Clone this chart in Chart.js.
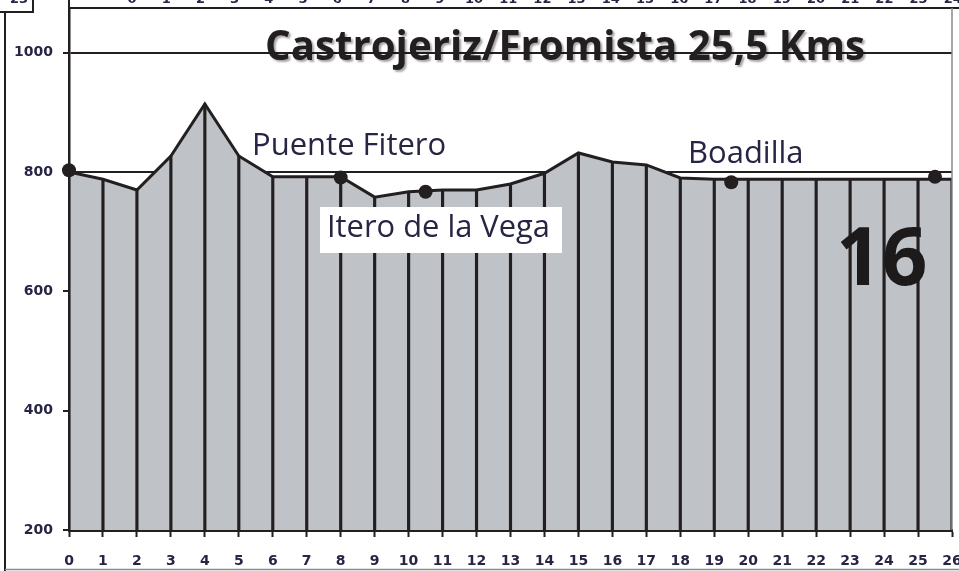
<!DOCTYPE html>
<html>
<head>
<meta charset="utf-8">
<title>Castrojeriz/Fromista</title>
<script src="https://cdn.jsdelivr.net/npm/chart.js@4.4.0/dist/chart.umd.min.js"></script>
<style>
  html, body { margin: 0; padding: 0; background: #fff; }
  #wrap { width: 959px; height: 571px; position: relative; }
</style>
</head>
<body>
<div id="wrap"><canvas id="profileChart"></canvas></div>
<script>
// Elevation profile, one reading per km
const kmPoints = [0, 1, 2, 3, 4, 5, 6, 7, 8, 9, 10, 11, 12, 13, 14, 15, 16, 17, 18, 19, 20, 21, 22, 23, 24, 25, 26];
const elevation = [800, 788, 770, 827, 914, 827, 792, 792, 792, 758, 767, 770, 770, 780, 798, 832, 817, 812, 790, 788, 788, 788, 788, 788, 788, 788, 788];

// Towns along the stage (black dots)
const townKm = [0, 8, 10.5, 19.5, 25.5];
const townElev = [803, 791, 767, 783, 792];

// Axis ticks
const yTicks = [200, 400, 600, 800, 1000];
const topStripLabels = ["0", "1", "2", "3", "4", "5", "6", "7", "8", "9", "10", "11", "12", "13", "14", "15", "16", "17", "18", "19", "20", "21", "22", "23", "24"];

const INK = "#231f20";
const NAVY = "#272544";
const FILL = "#bfc3c7";

const profilePoints = kmPoints.map((km, i) => ({ x: km, y: elevation[i] }));
const townPoints = townKm.map((km, i) => ({ x: km, y: townElev[i] }));

// Frame pieces, title and place names
const decorPlugin = {
  id: "decor",
  afterDraw(chart) {
    const ctx = chart.ctx;
    const area = chart.chartArea;
    ctx.save();

    // cut-off strip of the chart above
    ctx.strokeStyle = INK;
    ctx.lineWidth = 2;
    ctx.beginPath();
    ctx.moveTo(area.left, 0);
    ctx.lineTo(area.left, area.top);
    ctx.lineTo(959, area.top);
    ctx.stroke();
    ctx.beginPath();
    ctx.moveTo(0, 12);
    ctx.lineTo(33, 12);
    ctx.lineTo(33, 0);
    ctx.stroke();
    ctx.beginPath();
    ctx.moveTo(5, 12);
    ctx.lineTo(5, 571);
    ctx.stroke();
    ctx.fillStyle = NAVY;
    ctx.font = "bold 13px 'DejaVu Sans'";
    ctx.textAlign = "center";
    ctx.textBaseline = "alphabetic";
    topStripLabels.forEach((t, i) => {
      ctx.fillText(t, 132 + i * 34.2, 3);
    });
    ctx.fillText("23", 19, 3);

    // right edge
    ctx.strokeStyle = "#8a8a8a";
    ctx.lineWidth = 1.5;
    ctx.beginPath();
    ctx.moveTo(area.right, area.top);
    ctx.lineTo(area.right, area.bottom);
    ctx.stroke();
    ctx.beginPath();
    ctx.moveTo(5, 569.5);
    ctx.lineTo(959, 569.5);
    ctx.stroke();

    // title
    ctx.save();
    ctx.shadowColor = "rgba(0,0,0,0.35)";
    ctx.shadowOffsetX = 2;
    ctx.shadowOffsetY = 2;
    ctx.shadowBlur = 2;
    ctx.fillStyle = INK;
    ctx.font = "bold 42px 'Open Sans'";
    ctx.textAlign = "center";
    ctx.fillText("Castrojeriz/Fromista 25,5 Kms", 565, 60, 600);
    ctx.restore();

    // place names
    ctx.fillStyle = NAVY;
    ctx.font = "31px 'Open Sans'";
    ctx.textAlign = "left";
    ctx.fillText("Puente Fitero", 252, 155, 196);
    ctx.fillText("Boadilla", 688, 163, 117);

    ctx.fillStyle = "#ffffff";
    ctx.fillRect(320, 207, 242, 46);
    ctx.fillStyle = NAVY;
    ctx.fillText("Itero de la Vega", 327, 237, 223);

    // stage number
    ctx.fillStyle = "#1c1a1b";
    ctx.font = "bold 80px 'Open Sans'";
    ctx.fillText("16", 836, 285, 94);

    ctx.restore();
  },
};

const ctx = document.getElementById("profileChart");

new Chart(ctx.getContext("2d"), {
  type: "line",
  data: {
    datasets: [
      {
        type: "scatter",
        label: "Pueblos",
        data: townPoints,
        showLine: false,
        pointRadius: 7,
        pointBackgroundColor: INK,
        pointBorderColor: INK,
        pointBorderWidth: 0,
        order: 0,
        clip: false,
      },
      {
        type: "bar",
        label: "Km",
        data: profilePoints,
        backgroundColor: INK,
        barThickness: 2.5,
        order: 1,
      },
      {
        label: "Altitud",
        data: profilePoints,
        borderColor: INK,
        borderWidth: 3,
        backgroundColor: FILL,
        fill: "start",
        tension: 0,
        pointRadius: 0,
        order: 2,
      },
    ],
  },
  options: {
    responsive: true,
    maintainAspectRatio: false,
    animation: false,
    devicePixelRatio: 1,
    layout: {
      padding: { top: 8, right: 6, left: 0, bottom: 0 },
    },
    plugins: {
      legend: { display: false },
      tooltip: { enabled: false },
    },
    scales: {
      x: {
        type: "linear",
        min: 0,
        max: 26,
        offset: false,
        afterBuildTicks: (scale) => {
          scale.ticks = kmPoints.map((v) => ({ value: v }));
        },
        afterFit: (scale) => {
          scale.height = 41;
          scale.paddingLeft = 0;
          scale.paddingRight = 0;
        },
        ticks: {
          color: NAVY,
          padding: 16,
          autoSkip: false,
          maxRotation: 0,
          font: { family: "DejaVu Sans", size: 14, weight: "bold" },
        },
        grid: {
          offset: false,
          drawOnChartArea: false,
          drawTicks: true,
          tickLength: 7,
          tickColor: INK,
          tickWidth: 2,
        },
        border: { color: INK, width: 3 },
      },
      y: {
        min: 200,
        max: 1075,
        afterBuildTicks: (scale) => {
          scale.ticks = yTicks.map((v) => ({ value: v }));
        },
        afterFit: (scale) => {
          scale.width = 69;
          scale.paddingTop = 0;
          scale.paddingBottom = 0;
        },
        ticks: {
          color: NAVY,
          padding: 10,
          callback: (value) => String(value),
          font: { family: "DejaVu Sans", size: 14, weight: "bold" },
        },
        grid: {
          color: INK,
          lineWidth: 2,
          tickLength: 6,
          tickColor: INK,
          tickWidth: 2,
        },
        border: { color: INK, width: 2.5 },
      },
    },
  },
  plugins: [decorPlugin],
});
</script>
</body>
</html>
